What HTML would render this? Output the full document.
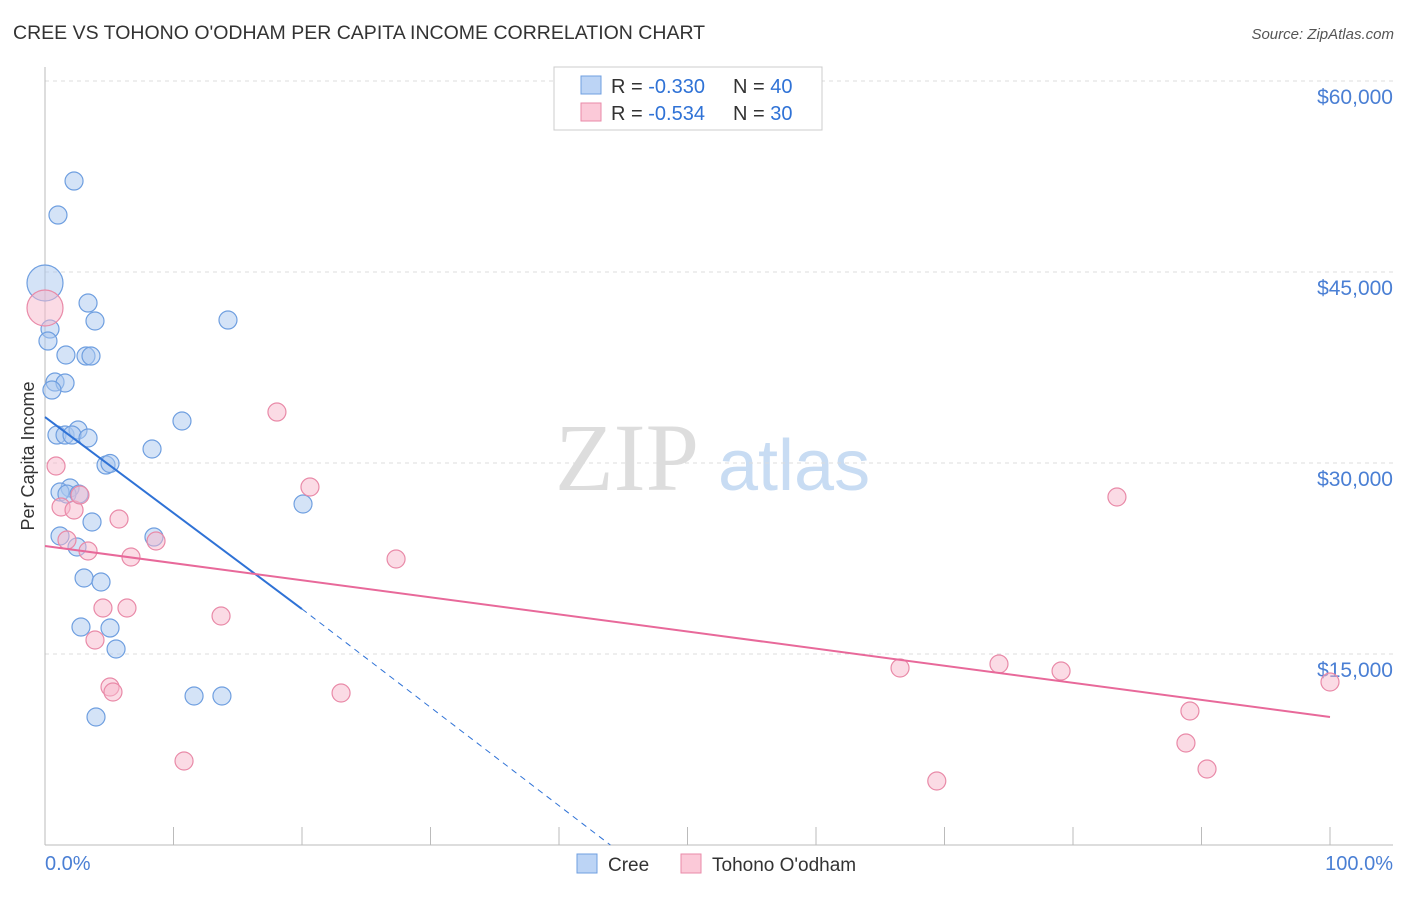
<!DOCTYPE html>
<html><head><meta charset="utf-8"><style>
body{margin:0;background:#fff;font-family:"Liberation Sans",sans-serif;}
</style></head><body>
<svg width="1406" height="892" xmlns="http://www.w3.org/2000/svg" font-family="Liberation Sans, sans-serif">
<text x="13" y="39" font-size="19.5" fill="#333">CREE VS TOHONO O'ODHAM PER CAPITA INCOME CORRELATION CHART</text>
<text x="1394" y="39" font-size="15" fill="#555" text-anchor="end" font-style="italic">Source: ZipAtlas.com</text>
<text x="555" y="490" font-size="96" fill="#ddd" font-family="Liberation Serif, serif">ZIP</text>
<text x="718" y="490" font-size="72" fill="#c8dcf3">atlas</text>
<g id="grid"></g>
<g id="axes"></g>
<g id="marks"></g>
<text transform="translate(34,456) rotate(-90)" font-size="18" fill="#333" text-anchor="middle">Per Capita Income</text>
<text x="45" y="870" font-size="20" fill="#4a7fd4">0.0%</text>
<text x="1393" y="870" font-size="20" fill="#4a7fd4" text-anchor="end">100.0%</text>
<g>
<rect x="554" y="67" width="268" height="63" fill="#fff" stroke="#ccc"/>
<rect x="581" y="76" width="20" height="18" fill="#bcd4f5" stroke="#6f9fe0"/>
<rect x="581" y="103" width="20" height="18" fill="#fbc9d8" stroke="#e98aa8"/>
<text x="611" y="93" font-size="20" fill="#333">R = <tspan fill="#2f72d6">-0.330</tspan></text>
<text x="733" y="93" font-size="20" fill="#333">N = <tspan fill="#2f72d6">40</tspan></text>
<text x="611" y="120" font-size="20" fill="#333">R = <tspan fill="#2f72d6">-0.534</tspan></text>
<text x="733" y="120" font-size="20" fill="#333">N = <tspan fill="#2f72d6">30</tspan></text>
</g>
<g>
<rect x="577" y="854" width="20" height="19" fill="#bcd4f5" stroke="#6f9fe0"/>
<text x="608" y="871" font-size="19" fill="#333">Cree</text>
<rect x="681" y="854" width="20" height="19" fill="#fbc9d8" stroke="#e98aa8"/>
<text x="712" y="871" font-size="19" fill="#333">Tohono O'odham</text>
</g>
</svg>
<script>
const yTicks=[15000,30000,45000,60000];
const yTickLabels=["$15,000","$30,000","$45,000","$60,000"];
const creeX=[2.26,1.01,0,0.39,0.23,3.35,3.89,14.24,1.63,3.19,3.58,0.78,1.56,0.54,10.66,0.93,1.56,2.57,2.1,3.35,8.33,4.75,5.06,1.95,1.17,1.71,2.65,20.08,3.66,1.17,8.48,2.49,3.04,4.36,2.8,5.06,5.53,11.6,13.77,3.97];
const creeY=[52144,49474,44134,40521,39579,42563,41150,41228,38480,38401,38401,36359,36281,35731,33297,32197,32197,32590,32197,31962,31098,29841,29960,28035,27721,27560,27560,26779,25365,24266,24186,23402,20968,20653,17120,17040,15392,11701,11701,10052];
const creeR=[9,9,18,9,9,9,9,9,9,9,9,9,9,9,9,9,9,9,9,9,9,9,9,9,9,9,9,9,9,9,9,9,9,9,9,9,9,9,9,9];
const tohX=[0,0.86,18.05,20.62,83.42,1.25,2.26,2.72,5.76,8.64,1.71,3.35,6.69,27.32,4.51,6.38,13.7,3.89,66.54,74.24,79.07,100,5.06,5.29,23.04,89.1,88.79,90.43,10.82,69.4];
const tohY=[42171,29763,34003,28114,27328,26543,26308,27486,25601,23873,23950,23088,22617,22460,18612,18612,17983,16099,13900,14214,13664,12800,12408,12015,11937,10523,8010,5968,6597,5026];
const tohR=[18,9,9,9,9,9,9,9,9,9,9,9,9,9,9,9,9,9,9,9,9,9,9,9,9,9,9,9,9,9];
const creeTrendX=[0,20,44];
const creeTrendY=[33611,18533,0];
const tohTrendX=[0,100];
const tohTrendY=[23480,10052];
const NS="http://www.w3.org/2000/svg";
const xs=p=>45+p*12.85;
const ys=v=>845-v*191/15000;
function mk(t,a,p){const e=document.createElementNS(NS,t);for(const k in a)e.setAttribute(k,a[k]);p.appendChild(e);return e;}
const gridG=document.getElementById('grid'),axesG=document.getElementById('axes'),marksG=document.getElementById('marks');
yTicks.forEach((v,i)=>{
 const l=mk('line',{x1:45,x2:1393,y1:ys(v),y2:ys(v),stroke:'#ddd','stroke-dasharray':'4,4'},gridG);
 
 
 const t=mk('text',{x:1393,y:ys(v)+23,'font-size':21,fill:'#4a7fd4','text-anchor':'end'},axesG);
 t.textContent=yTickLabels[i];
 
 
});
const ya=mk('line',{x1:45,x2:45,y1:67,y2:845,stroke:'#bbb'},axesG);


const xa=mk('line',{x1:45,x2:1393,y1:845,y2:845,stroke:'#bbb'},axesG);


for(let i=0;i<=10;i++){
 const t=mk('line',{x1:xs(i*10),x2:xs(i*10),y1:827,y2:845,stroke:'#bbb'},axesG);
 
 
}
function pts(X,Y,R,fill,stroke,name){
 X.forEach((x,i)=>{
  const c=mk('circle',{cx:xs(x),cy:ys(Y[i]),r:R[i],fill:fill,'fill-opacity':0.5,stroke:stroke,'stroke-width':1.2},marksG);
  
  
 });
}
pts(creeX,creeY,creeR,'#a9c8f0','#6f9fe0','cree-point');
pts(tohX,tohY,tohR,'#f7b8cc','#e98aa8','tohono-point');
const cl=mk('line',{x1:xs(creeTrendX[0]),y1:ys(creeTrendY[0]),x2:xs(creeTrendX[1]),y2:ys(creeTrendY[1]),stroke:'#2f72d6','stroke-width':2},marksG);


const cd=mk('line',{x1:xs(creeTrendX[1]),y1:ys(creeTrendY[1]),x2:xs(creeTrendX[2]),y2:ys(creeTrendY[2]),stroke:'#2f72d6','stroke-width':1,'stroke-dasharray':'6,5'},marksG);


const tl=mk('line',{x1:xs(tohTrendX[0]),y1:ys(tohTrendY[0]),x2:xs(tohTrendX[1]),y2:ys(tohTrendY[1]),stroke:'#e8699a','stroke-width':2},marksG);


</script>
</body></html>
